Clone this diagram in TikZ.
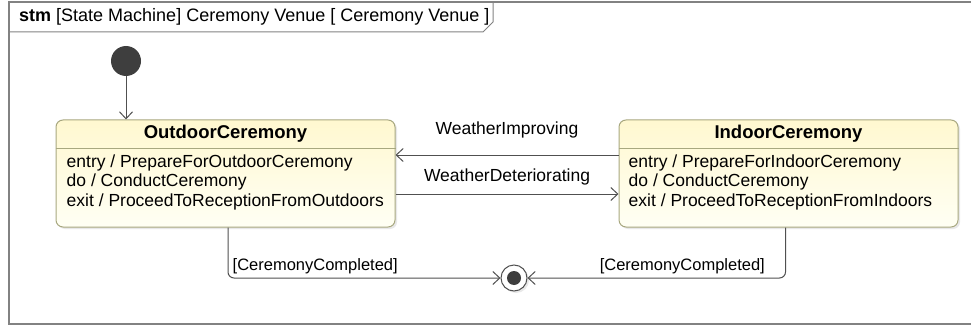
\documentclass[tikz,border=0pt]{standalone}
\usepackage{fontspec}
\setmainfont{Liberation Sans}
\usetikzlibrary{arrows.meta, shadows, calc}
\definecolor{linegray}{RGB}{80,80,80}
\definecolor{framegray}{RGB}{130,130,130}
\definecolor{stateborder}{RGB}{168,168,128}
\definecolor{statetop}{RGB}{255,248,208}
\definecolor{statebottom}{RGB}{255,255,244}
\definecolor{dotgray}{RGB}{62,62,62}
\tikzset{> = { Straight Barb[length = 7pt, width = 13pt] }}
\tikzset{
	statebox/.style = {draw = stateborder, line width = 1pt, rounded corners = 7pt,
		top color = statetop, bottom color = statebottom,
		minimum width = 339pt, minimum height = 107pt, inner sep = 0pt,
		drop shadow = {opacity = 0.18, shadow xshift = 2pt, shadow yshift = -2pt}},
	statename/.style = {inner sep = 0pt, font = \fontsize{18.5}{21}\selectfont\bfseries},
	statebody/.style = {inner sep = 0pt, align = left, font = \fontsize{17.5}{19.5}\selectfont},
	transition/.style = {draw = linegray, line width = 1pt},
	translabel/.style = {inner sep = 0pt, font = \fontsize{17.5}{19.5}\selectfont},
	guardlabel/.style = {inner sep = 0pt, font = \fontsize{16.5}{19}\selectfont},
	titlelabel/.style = {inner sep = 0pt, font = \fontsize{18}{20}\selectfont},
	initialstate/.style = {circle, fill = dotgray, minimum size = 30pt, inner sep = 0pt},
	finalstate/.style = {circle, draw = linegray, line width = 1pt, fill = white, minimum size = 26pt, inner sep = 0pt,
		drop shadow = {opacity = 0.18, shadow xshift = 2pt, shadow yshift = -2pt}},
	framebox/.style = {draw = framegray, line width = 2pt},
}

\begin{document}
\begin{tikzpicture}[x = 1pt, y = -1pt]
	\useasboundingbox (0, 0) rectangle (971, 326);

	% Frame and its tab.
	\draw [framebox] (980, 2.5) -- (8.5, 2.5) -- (8.5, 324) -- (980, 324);
	\draw [draw = framegray, line width = 1pt] (8.5, 32) -- (483, 32) -- (493, 22) -- (493, 2.5);
	\node [titlelabel, anchor = west] (title) at (19, 17) {\textbf{stm} [State Machine] Ceremony Venue [ Ceremony Venue ]};

	\node [initialstate] (initial) at (126, 61) {};
	\node [statebox] (outdoor) at (225.5, 173.5) {};
	\node [statebox] (indoor) at (788.5, 173.5) {};
	\node [finalstate] (final) at (514, 278) {};
	\fill [dotgray] (final) circle (7pt);

	% Outdoor state.
	\node [statename] (outdoorname) at ([yshift = -14.5pt]outdoor.north) {OutdoorCeremony};
	\draw [draw = stateborder, line width = 1pt] ([yshift = -29pt]outdoor.north west) -- ([yshift = -29pt]outdoor.north east);
	\node [statebody, anchor = north west] (outdoorbody) at ([xshift = 11pt, yshift = -35pt]outdoor.north west)
		{entry / PrepareForOutdoorCeremony\\do / ConductCeremony\\exit / ProceedToReceptionFromOutdoors};

	% Indoor state.
	\node [statename] (indoorname) at ([yshift = -14.5pt]indoor.north) {IndoorCeremony};
	\draw [draw = stateborder, line width = 1pt] ([yshift = -29pt]indoor.north west) -- ([yshift = -29pt]indoor.north east);
	\node [statebody, anchor = north west] (indoorbody) at ([xshift = 10pt, yshift = -35pt]indoor.north west)
		{entry / PrepareForIndoorCeremony\\do / ConductCeremony\\exit / ProceedToReceptionFromIndoors};

	\draw [transition, ->] (initial) to (initial |- outdoor.north);

	\draw [transition, ->] ([yshift = 18.5pt]indoor.west)
		to node [translabel, above = 16pt] {WeatherImproving} ([yshift = 18.5pt]outdoor.east);
	\draw [transition, ->] ([yshift = -20.5pt]outdoor.east)
		to node [translabel, above = 8pt] {WeatherDeteriorating} ([yshift = -20.5pt]indoor.west);

	\draw [transition, ->, rounded corners = 6pt] ([xshift = 2.5pt]outdoor.south)
		|- node [guardlabel, pos = 0.66, above = 4pt] {[CeremonyCompleted]} (final);
	\draw [transition, ->, rounded corners = 6pt] ([xshift = -3pt]indoor.south)
		|- node [guardlabel, pos = 0.7, above = 4pt] {[CeremonyCompleted]} (final);
\end{tikzpicture}
\end{document}
